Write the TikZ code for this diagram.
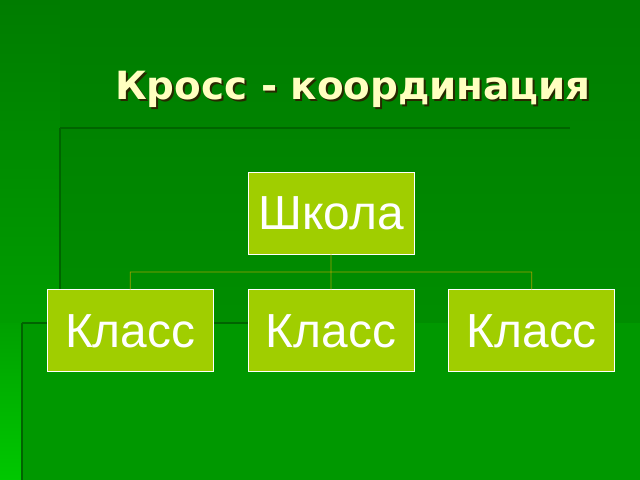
\documentclass[tikz,border=0pt]{standalone}
\usepackage{fontspec}
\setmainfont{Liberation Sans}
\newfontfamily\headfont{DejaVu Sans}
\usetikzlibrary{positioning}
\usetikzlibrary{calc}

\definecolor{bgtop}{RGB}{0,124,0}
\definecolor{bgbottom}{RGB}{0,150,0}
\definecolor{striptop}{RGB}{0,130,0}
\definecolor{stripbottom}{RGB}{0,200,0}
\definecolor{bandcol}{RGB}{0,152,0}
\definecolor{edgecol}{RGB}{0,100,0}
\definecolor{unitfill}{RGB}{160,206,0}
\definecolor{linkcol}{RGB}{160,160,0}
\definecolor{headcol}{RGB}{255,255,192}
\definecolor{headshadow}{RGB}{40,40,0}

\begin{document}
\begin{tikzpicture}[x=1bp,y=-1bp,node distance=35bp and 34bp,
    unit node/.style={rectangle,draw=white,line width=0.8bp,fill=unitfill,text=white,
      minimum width=166bp,minimum height=82bp,inner sep=0pt,
      font=\fontsize{48}{50}\selectfont},
    head node/.style={anchor=base,inner sep=0pt,font=\headfont\bfseries\fontsize{39}{44}\selectfont},
    link/.style={draw=linkcol,line width=0.8bp},
    panel edge/.style={draw=edgecol,line width=2.5bp}
    ]

    \useasboundingbox (0,0) rectangle (640,480);
    \shade[top color=bgtop,bottom color=bgbottom] (0,0) rectangle (640,480);
    \shade[top color=bgtop,bottom color=bgbottom!85!stripbottom] (0,0) rectangle (60,323);
    \fill[bandcol] (22,323) rectangle (640,480);
    \shade[top color=bgbottom!80!stripbottom,bottom color=stripbottom] (0,323) rectangle (22,480);
    \draw[panel edge] (60,128) -- (570,128);
    \draw[panel edge] (60,128) -- (60,323);
    \draw[panel edge] (22,323) -- (250,323);
    \draw[panel edge] (22,323) -- (22,480);

    \node[head node,text=headshadow] (headshade) at (355,102) {Кросс - координация};
    \node[head node,text=headcol] (head) at (353,100) {Кросс - координация};

    \node[unit node] (school) at (331,213) {Школа};
    \node[unit node] (class2) [below=of school] {Класс};
    \node[unit node] (class1) [left=of class2] {Класс};
    \node[unit node] (class3) [right=of class2] {Класс};

    \coordinate (hub) at ($(school.south)!0.5!(class2.north)$);
    \path[link]
    (school.south) -- (hub)
    (hub) -| (class1.north)
    (hub) -| (class3.north)
    (hub) -- (class2.north);
\end{tikzpicture}
\end{document}
